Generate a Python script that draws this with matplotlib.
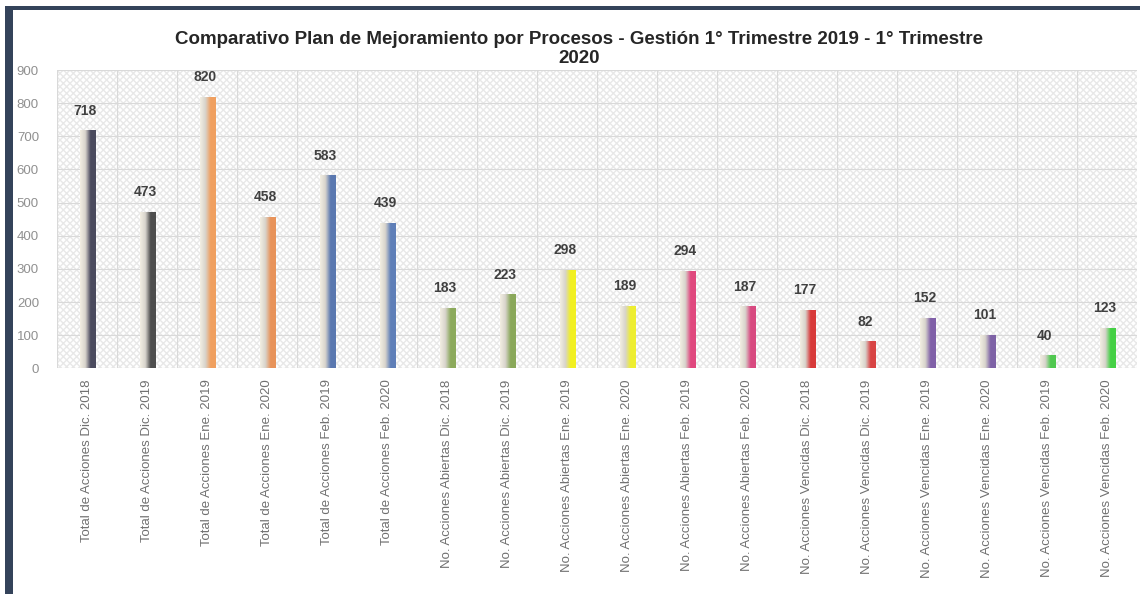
import matplotlib.pyplot as plt
import numpy as np
from matplotlib.colors import LinearSegmentedColormap
from matplotlib.patches import Rectangle

categories = [
    "Total de Acciones Dic. 2018",
    "Total de Acciones Dic. 2019",
    "Total de Acciones Ene. 2019",
    "Total de Acciones Ene. 2020",
    "Total de Acciones Feb. 2019",
    "Total de Acciones Feb. 2020",
    "No. Acciones Abiertas Dic. 2018",
    "No. Acciones Abiertas Dic. 2019",
    "No. Acciones Abiertas Ene. 2019",
    "No. Acciones Abiertas Ene. 2020",
    "No. Acciones Abiertas Feb. 2019",
    "No. Acciones Abiertas Feb. 2020",
    "No. Acciones Vencidas Dic. 2018",
    "No. Acciones Vencidas Dic. 2019",
    "No. Acciones Vencidas Ene. 2019",
    "No. Acciones Vencidas Ene. 2020",
    "No. Acciones Vencidas Feb. 2019",
    "No. Acciones Vencidas Feb. 2020",
]
values = [718, 473, 820, 458, 583, 439, 183, 223, 298, 189, 294, 187,
          177, 82, 152, 101, 40, 123]
bar_colors = [
    "#4b4b5e", "#4e4e4e", "#f0a060", "#e8935a", "#5a78b0", "#5f7fb8",
    "#8caa5c", "#8aa85a", "#f2f020", "#eeee30", "#e0487e", "#d84a80",
    "#d83a3a", "#d84444", "#8060a8", "#7e62a6", "#50c850", "#44d044",
]
title = ("Comparativo Plan de Mejoramiento por Procesos - Gestión 1° Trimestre 2019 - 1° Trimestre\n"
         "2020")

font = ["Liberation Sans", "DejaVu Sans"]

fig = plt.figure(figsize=(11.4, 5.94), dpi=100)
ax = fig.add_axes([0.05, 0.38, 0.947, 0.502])

x = np.arange(len(values))
ax.set_xlim(-0.5, len(values) - 0.5)
ax.set_ylim(0, 900)

# hatched background
ax.add_patch(Rectangle((0, 0), 1, 1, transform=ax.transAxes, facecolor="white",
                       edgecolor="#e8e8e8", hatch="xxxxx", lw=0, zorder=0))

ax.set_yticks(np.arange(0, 901, 100))
ax.set_xticks(x)
ax.set_xticks(np.arange(-0.5, len(values), 1), minor=True)
ax.grid(axis="y", color="#d9d9d9", lw=0.8, zorder=1)
ax.grid(axis="x", which="minor", color="#d9d9d9", lw=0.8, zorder=1)
ax.grid(axis="x", which="major", visible=False)
for s in ax.spines.values():
    s.set_visible(False)

bars = ax.bar(x + 0.02, values, width=0.26, color="none", zorder=2)
grad = np.linspace(0, 1, 64).reshape(1, -1)
for b, c, v in zip(bars, bar_colors, values):
    cmap = LinearSegmentedColormap.from_list("g", ["#f2eee2", "#d8d4cc", c, c])
    x0 = b.get_x()
    im = ax.imshow(grad, cmap=cmap, aspect="auto", zorder=3,
                   extent=(x0, x0 + b.get_width(), 0, v))
    im.set_clip_path(b)
    ax.annotate(str(v), (b.get_x() + b.get_width() / 2 - 0.05, v), xytext=(0, 9),
                textcoords="offset points", ha="center", va="bottom",
                fontsize=10, fontweight="bold", color="#404040", family=font)

ax.set_xticklabels(categories, rotation=90, fontsize=9.5, color="#707070", family=font)
ax.set_yticklabels([str(t) for t in range(0, 901, 100)], fontsize=9.5, color="#909090", family=font)
ax.tick_params(axis="both", which="both", length=0)
ax.tick_params(axis="y", pad=13)
ax.tick_params(axis="x", pad=8)

fig.text(0.508, 0.887, title, ha="center", va="bottom", fontsize=13.5,
         fontweight="bold", color="#262626", family=font, linespacing=1.2)

# dark frame of the screenshot
fig.add_artist(Rectangle((0.004, 0.0), 0.007, 0.99, transform=fig.transFigure,
                         facecolor="#34435a", lw=0))
fig.add_artist(Rectangle((0.004, 0.983), 0.996, 0.007, transform=fig.transFigure,
                         facecolor="#34435a", lw=0))

fig.savefig("out.png", dpi=100)
